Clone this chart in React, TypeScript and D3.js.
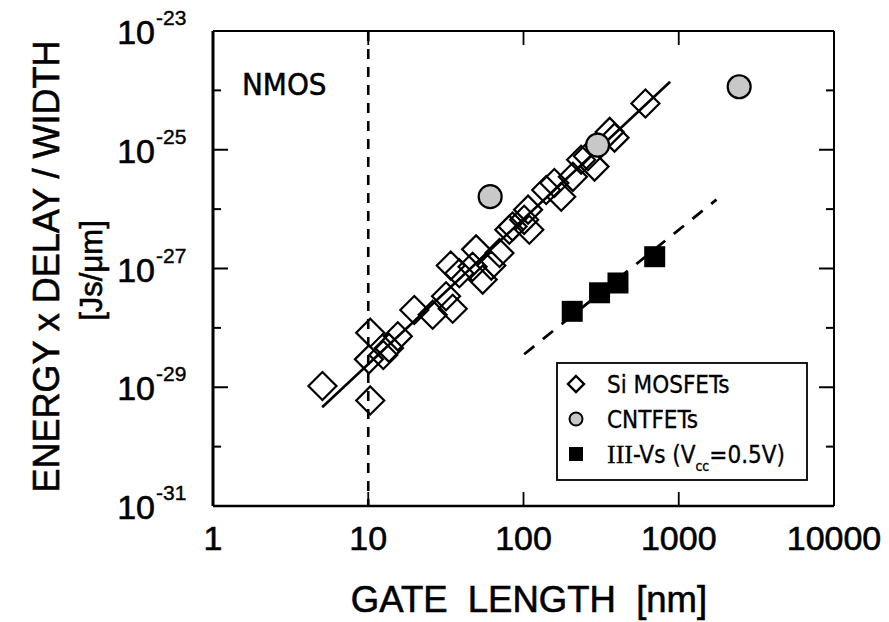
import React from "react";
import * as d3 from "d3";

// Gate length [nm] and energy x delay / width [Js/um]
const siLength = [5.07, 10.3, 10.1, 10.3, 12.5, 13.6, 15.5, 19.8, 26, 31.7, 35, 34, 38.6, 47, 54.6, 49.5, 62, 70, 81, 85, 101, 107, 109, 140, 158, 175, 208, 235, 260, 287, 359, 386, 610];
const siEDW = [1.05e-29, 6.0e-30, 2.95e-29, 8.3e-29, 3.5e-29, 4.6e-29, 7.2e-29, 2.0e-28, 1.66e-28, 3.4e-28, 2.1e-28, 1.12e-27, 8.3e-28, 1.07e-27, 6.5e-28, 2.1e-27, 1.12e-27, 1.82e-27, 4.5e-27, 5.1e-27, 6.6e-27, 9.8e-27, 4.5e-27, 2.1e-26, 2.75e-26, 1.62e-26, 3.5e-26, 6.8e-26, 7.8e-26, 5.2e-26, 2.0e-25, 1.6e-25, 6.0e-25];

const cntLength = [61, 300, 2450];
const cntEDW = [1.62e-26, 1.2e-25, 1.15e-24];

const iiivLength = [206, 309, 406, 700];
const iiivEDW = [1.9e-28, 3.9e-28, 5.7e-28, 1.58e-27];

// Trend lines
const siFitLength = [5.05, 880];
const siFitEDW = [4.6e-30, 1.4e-24];
const iiivFitLength = [101, 1750];
const iiivFitEDW = [3.6e-29, 1.45e-26];

const nodeLength = 10;

const xTicks = [1, 10, 100, 1000, 10000];
const xTickLabels = ["1", "10", "100", "1000", "10000"];
const yLabelExponents = [-23, -25, -27, -29, -31];
const yMinorExponents = [-24, -26, -28, -30];

const legendLabels = ["Si MOSFETs", "CNTFETs", "III-Vs"];

const W = 889;
const H = 622;
const left = 213;
const right = 834;
const top = 31;
const bottom = 506;

const sansFont = "'Liberation Sans', Arial, sans-serif";
const tahomaFont = "'DejaVu Sans Condensed', 'DejaVu Sans', sans-serif";
const ink = { fill: "#000", stroke: "#000", strokeWidth: 0.6 };

export default function App() {
  const x = d3.scaleLog().domain([1, 10000]).range([left, right]);
  const y = d3.scaleLog().domain([1e-31, 1e-23]).range([bottom, top]);

  const line = d3
    .line<[number, number]>()
    .x((d) => x(d[0]))
    .y((d) => y(d[1]));

  const siFit = line(siFitLength.map((v, i) => [v, siFitEDW[i]]) as [number, number][]) || "";
  const iiivFit = line(iiivFitLength.map((v, i) => [v, iiivFitEDW[i]]) as [number, number][]) || "";

  const diamond = (cx: number, cy: number, r: number) =>
    `M${cx},${cy - r}L${cx + r},${cy}L${cx},${cy + r}L${cx - r},${cy}Z`;

  const majorLen = 15;
  const minorLen = 8;
  const xTickLen = 14;

  const legX = 557;
  const legY = 363;
  const legW = 250;
  const legH = 117;

  return (
    <svg width={W} height={H} style={{ display: "block", position: "absolute", left: 0, top: 0, background: "#fff" }}>
      <rect x={0} y={0} width={W} height={H} fill="#fff" />

      {/* node marker */}
      <line
        x1={x(nodeLength)}
        x2={x(nodeLength)}
        y1={top}
        y2={bottom}
        stroke="#000"
        strokeWidth={2.6}
        strokeDasharray="10,8"
      />

      {/* trend lines */}
      <path d={siFit} fill="none" stroke="#000" strokeWidth={2.6} />
      <path d={iiivFit} fill="none" stroke="#000" strokeWidth={2.8} strokeDasharray="13,11" />

      {/* Si MOSFETs */}
      {siLength.map((v, i) => (
        <path
          key={"si" + i}
          d={diamond(x(v), y(siEDW[i]), 14)}
          fill="none"
          stroke="#000"
          strokeWidth={2.2}
        />
      ))}

      {/* CNTFETs */}
      {cntLength.map((v, i) => (
        <circle key={"cnt" + i} cx={x(v)} cy={y(cntEDW[i])} r={11.5} fill="#c8c8c8" stroke="#000" strokeWidth={2.2} />
      ))}

      {/* III-Vs */}
      {iiivLength.map((v, i) => (
        <rect key={"iii" + i} x={x(v) - 10.5} y={y(iiivEDW[i]) - 10.5} width={21} height={21} fill="#000" />
      ))}

      {/* frame */}
      <line x1={left} x2={left} y1={top} y2={bottom} stroke="#000" strokeWidth={3} />
      <line x1={left} x2={right} y1={top} y2={top} stroke="#000" strokeWidth={2.2} />
      <line x1={left} x2={right} y1={bottom} y2={bottom} stroke="#000" strokeWidth={2.4} />
      <line x1={right} x2={right} y1={top} y2={bottom} stroke="#000" strokeWidth={2} />

      {/* x ticks */}
      {xTicks.slice(1, -1).map((t) => (
        <g key={"xt" + t}>
          <line x1={x(t)} x2={x(t)} y1={bottom} y2={bottom - xTickLen} stroke="#000" strokeWidth={1.8} />
          <line x1={x(t)} x2={x(t)} y1={top} y2={top + xTickLen} stroke="#000" strokeWidth={1.8} />
        </g>
      ))}
      {xTicks.map((t, i) => (
        <text key={"xl" + t} x={x(t)} y={550} textAnchor="middle" fontFamily={sansFont} fontSize={34} {...ink}>
          {xTickLabels[i]}
        </text>
      ))}

      {/* y ticks */}
      {yLabelExponents.slice(1, -1).map((e) => (
        <g key={"ym" + e}>
          <line x1={left} x2={left + majorLen} y1={y(Math.pow(10, e))} y2={y(Math.pow(10, e))} stroke="#000" strokeWidth={2} />
          <line x1={right} x2={right - majorLen} y1={y(Math.pow(10, e))} y2={y(Math.pow(10, e))} stroke="#000" strokeWidth={2} />
        </g>
      ))}
      {yMinorExponents.map((e) => (
        <g key={"yn" + e}>
          <line x1={left} x2={left + minorLen} y1={y(Math.pow(10, e))} y2={y(Math.pow(10, e))} stroke="#000" strokeWidth={2} />
          <line x1={right} x2={right - minorLen} y1={y(Math.pow(10, e))} y2={y(Math.pow(10, e))} stroke="#000" strokeWidth={2} />
        </g>
      ))}
      {yLabelExponents.map((e) => {
        const yy = y(Math.pow(10, e));
        return (
          <g key={"yl" + e}>
            <text x={155} y={yy + 13} textAnchor="end" fontFamily={sansFont} fontSize={34} {...ink}>
              10
            </text>
            <text x={156} y={yy - 6} textAnchor="start" fontFamily={sansFont} fontSize={21} {...ink} strokeWidth={0.4}>
              {String(e)}
            </text>
          </g>
        );
      })}

      {/* axis titles */}
      <text
        x={529}
        y={612}
        textAnchor="middle"
        fontFamily={sansFont}
        fontSize={36.5}
        {...ink}
        style={{ whiteSpace: "pre" }}
      >
        {"GATE  LENGTH  [nm]"}
      </text>
      <text
        transform={`translate(59,${(top + bottom) / 2 - 2}) rotate(-90)`}
        textAnchor="middle"
        fontFamily={sansFont}
        fontSize={36}
        {...ink}
      >
        ENERGY x DELAY / WIDTH
      </text>
      <text
        transform={`translate(102,${(top + bottom) / 2 + 2}) rotate(-90)`}
        textAnchor="middle"
        fontFamily={sansFont}
        fontSize={31}
        {...ink}
      >
        [Js/μm]
      </text>

      {/* device label */}
      <text x={242} y={95} fontFamily={tahomaFont} fontSize={31} {...ink} strokeWidth={0.5}>
        NMOS
      </text>

      {/* legend */}
      <rect x={legX} y={legY} width={legW} height={legH} fill="#fff" stroke="#000" strokeWidth={1.8} />
      <path d={diamond(576, 384, 8)} fill="none" stroke="#000" strokeWidth={2.4} />
      <circle cx={576} cy={419} r={6.5} fill="#c8c8c8" stroke="#000" strokeWidth={2} />
      <rect x={569} y={447} width={14} height={14} fill="#000" />
      <text x={607} y={393} fontFamily={tahomaFont} fontSize={24} {...ink} strokeWidth={0.3}>
        {legendLabels[0]}
      </text>
      <text x={607} y={428} fontFamily={tahomaFont} fontSize={24} {...ink} strokeWidth={0.3}>
        {legendLabels[1]}
      </text>
      <text x={607} y={463} fontFamily={tahomaFont} fontSize={24} {...ink} strokeWidth={0.3}>
        <tspan fontFamily="'Liberation Serif', 'DejaVu Serif', serif" fontSize={26}>III</tspan>
        <tspan>-Vs (V</tspan>
        <tspan fontSize={14} dy={8}>cc</tspan>
        <tspan dy={-8}>=0.5V)</tspan>
      </text>
    </svg>
  );
}
